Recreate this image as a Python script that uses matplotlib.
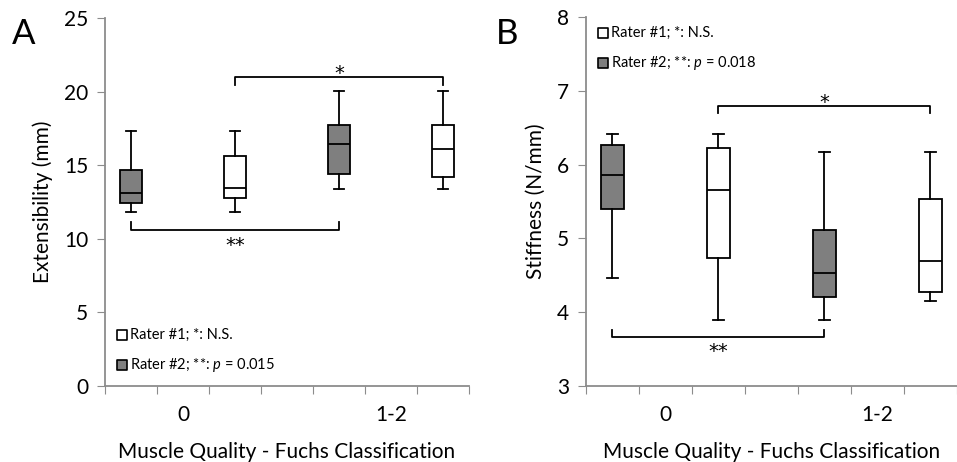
import matplotlib.pyplot as plt

plt.rcParams['font.family'] = ['Lato', 'DejaVu Sans']
plt.rcParams['mathtext.fontset'] = 'custom'
plt.rcParams['mathtext.it'] = 'Lato:italic'
plt.rcParams['mathtext.rm'] = 'Lato'

# box positions on the category axis (0..7), groups "0" and "1-2"
positions = [0.5, 2.5, 4.5, 6.5]
group_labels = ['0', '1-2']
group_pos = [1.5, 5.5]
box_fill = ['#7f7f7f', 'white', '#7f7f7f', 'white']

# Panel A: Extensibility (mm)  -> whislo, q1, med, q3, whishi
ext_lo = [11.85, 11.85, 13.4, 13.4]
ext_q1 = [12.45, 12.75, 14.42, 14.2]
ext_med = [13.13, 13.47, 16.41, 16.09]
ext_q3 = [14.65, 15.62, 17.7, 17.7]
ext_hi = [17.3, 17.3, 20.03, 20.03]

# Panel B: Stiffness (N/mm)
stf_lo = [4.47, 3.89, 3.89, 4.15]
stf_q1 = [5.40, 4.73, 4.20, 4.27]
stf_med = [5.86, 5.66, 4.53, 4.69]
stf_q3 = [6.26, 6.23, 5.11, 5.54]
stf_hi = [6.41, 6.41, 6.17, 6.17]

fig = plt.figure(figsize=(9.57, 4.62), dpi=100)
axA = fig.add_axes([0.1097, 0.1645, 0.3803, 0.7965])
axB = fig.add_axes([0.6123, 0.1645, 0.3877, 0.7987])


def draw_panel(ax, lo, q1, med, q3, hi, ylim, yticks, ylabel):
    stats = []
    for i in range(len(positions)):
        stats.append(dict(whislo=lo[i], q1=q1[i], med=med[i], q3=q3[i],
                          whishi=hi[i], fliers=[]))
    bp = ax.bxp(stats, positions=positions, widths=0.42, patch_artist=True,
                showfliers=False, capwidths=0.2,
                boxprops=dict(edgecolor='black', linewidth=1.3),
                medianprops=dict(color='black', linewidth=1.3),
                whiskerprops=dict(color='black', linewidth=1.3),
                capprops=dict(color='black', linewidth=1.3))
    for patch, c in zip(bp['boxes'], box_fill):
        patch.set_facecolor(c)
    ax.set_xlim(0, 7)
    ax.set_ylim(*ylim)
    ax.set_yticks(yticks)
    ax.set_xticks(range(8))
    ax.set_xticklabels([''] * 8)
    ax.set_xticks(group_pos, minor=True)
    ax.set_xticklabels(group_labels, minor=True)
    ax.tick_params(axis='x', which='major', length=6, color='#8c8c8c')
    ax.tick_params(axis='x', which='minor', length=0, pad=14, labelsize=15)
    ax.tick_params(axis='y', length=6, color='#8c8c8c', labelsize=15, pad=6)
    for s in ['top', 'right']:
        ax.spines[s].set_visible(False)
    for s in ['left', 'bottom']:
        ax.spines[s].set_color('#8c8c8c')
        ax.spines[s].set_linewidth(1.3)
    ax.set_ylabel(ylabel, fontsize=15, labelpad=8)
    ax.set_xlabel('Muscle Quality - Fuchs Classification', fontsize=15, labelpad=12)


def bracket(ax, x1, x2, y, drop, label, off):
    ax.plot([x1, x1, x2, x2], [y + drop, y, y, y + drop], color='black', lw=1.3)
    ax.annotate(label, xy=((x1 + x2) / 2, y), xytext=(0, off),
                textcoords='offset points', ha='center', va='baseline',
                fontsize=14, family='DejaVu Sans')


def legend_rows(ax, x, ys, texts):
    for y, t, c in zip(ys, texts, ['white', '#7f7f7f']):
        ax.scatter([x], [y], marker='s', s=55, facecolor=c, edgecolor='black',
                   linewidth=1.2, zorder=3, clip_on=False)
        ax.text(x + 0.16, y, t, ha='left', va='center', fontsize=10.5)


draw_panel(axA, ext_lo, ext_q1, ext_med, ext_q3, ext_hi, (0, 25),
           [0, 5, 10, 15, 20, 25], 'Extensibility (mm)')
bracket(axA, 2.5, 6.5, 20.98, -0.55, '*', -1.5)
bracket(axA, 0.5, 4.5, 10.62, 0.55, '**', -15)
legend_rows(axA, 0.32, [3.46, 1.42],
            ['Rater #1; *: N.S.', 'Rater #2; **: $p$ = 0.015'])

draw_panel(axB, stf_lo, stf_q1, stf_med, stf_q3, stf_hi, (3, 8),
           [3, 4, 5, 6, 7, 8], 'Stiffness (N/mm)')
bracket(axB, 2.5, 6.5, 6.80, -0.1, '*', -1.5)
bracket(axB, 0.5, 4.5, 3.66, 0.1, '**', -14)
legend_rows(axB, 0.32, [7.78, 7.38],
            ['Rater #1; *: N.S.', 'Rater #2; **: $p$ = 0.018'])

fig.text(0.012, 0.905, 'A', fontsize=25)
fig.text(0.518, 0.905, 'B', fontsize=25)

fig.savefig('out.png', dpi=100)
